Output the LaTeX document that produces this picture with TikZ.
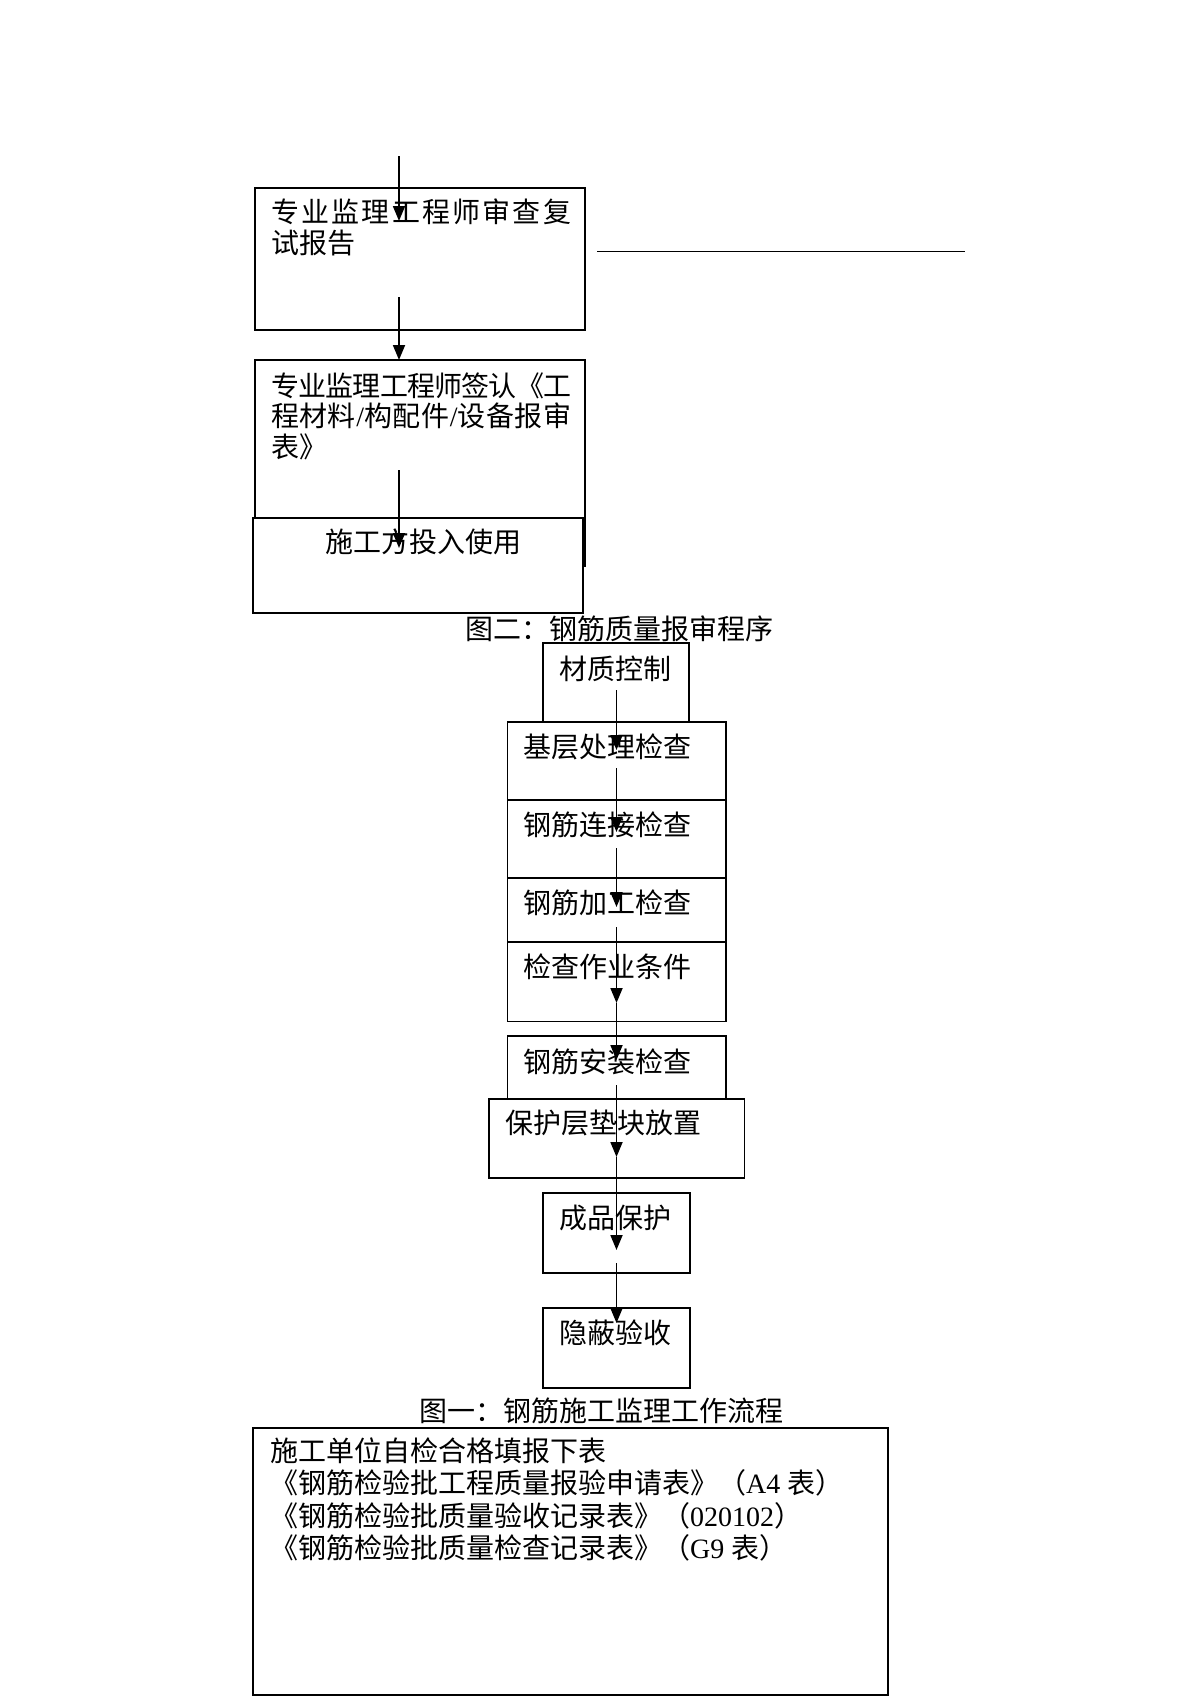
\documentclass[tikz,border=0pt]{standalone}
\usepackage{fontspec}
\setmainfont{Noto Sans CJK SC}
\newfontfamily\lat{Liberation Serif}
\usetikzlibrary{arrows.meta}
\newcommand\myfs{\fontsize{28pt}{34pt}\selectfont}
\newcommand\jline[1]{\hbox to 300pt{#1}}
\begin{document}
\begin{tikzpicture}[x=1pt,y=-1pt,
  box/.style={draw,line width=1.9pt,fill=white,inner sep=0pt},
  lbl/.style={anchor=west,inner sep=0pt,font=\myfs},
  captxt/.style={anchor=center,inner sep=0pt,font=\myfs},
  arr/.style={line width=1.8pt,-{Triangle[length=15pt,width=12pt]}},
  plainline/.style={line width=1.9pt}]
\fill[white] (0,0) rectangle (1200,1697);
\useasboundingbox (0,0) rectangle (1200,1697);

% ---- top section (figure 2) ----
\node[box,minimum width=330pt,minimum height=142pt] (b1) at (420,259) {};
\node[lbl] (b1a) at (271,211.5) {\jline{专\hss 业\hss 监\hss 理\hss 工\hss 程\hss 师\hss 审\hss 查\hss 复}};
\node[lbl] (b1b) at (271,243) {试报告};
\coordinate (h0) at (597,251.5);
\coordinate (h1) at (965,251.5);
\draw[plainline] (h0) -- (h1);

\node[box,minimum width=330pt,minimum height=206pt] (b2) at (420,463) {};
\node[lbl] (b2a) at (271,386) {\jline{专\hss 业\hss 监\hss 理\hss 工\hss 程\hss 师\hss 签\hss 认\hss 《\hss 工}};
\node[lbl] (b2b) at (271,416) {\jline{程\hss 材\hss 料\hss {\lat/}\hss 构\hss 配\hss 件\hss {\lat/}\hss 设\hss 备\hss 报\hss 审}};
\node[lbl] (b2c) at (271,447) {表》};

\node[box,minimum width=330pt,minimum height=95pt] (b3) at (418,565.5) {};
\node[lbl] (b3a) at (325,542) {施工方投入使用};

\node[captxt] (cap2) at (619.5,629) {图二：钢筋质量报审程序};

% ---- middle section (figure 1) ----
\node[box,minimum width=146pt,minimum height=79pt] (m1) at (616,682.5) {};
\node[lbl] (m1a) at (559,669) {材质控制};
\node[box,minimum width=218.5pt,minimum height=78pt] (m2) at (616.75,761) {};
\node[lbl] (m2a) at (523,746.7) {基层处理检查};
\node[box,minimum width=218.5pt,minimum height=78pt] (m3) at (616.75,839) {};
\node[lbl] (m3a) at (523,825) {钢筋连接检查};
\node[box,minimum width=218.5pt,minimum height=64pt] (m4) at (616.75,910) {};
\node[lbl] (m4a) at (523,903) {钢筋加工检查};
\node[box,minimum width=218.5pt,minimum height=79.5pt] (m5) at (616.75,981.75) {};
\node[lbl] (m5a) at (523,966.7) {检查作业条件};
\node[box,minimum width=218.5pt,minimum height=63pt] (m6) at (616.75,1067.5) {};
\node[lbl] (m6a) at (523,1061.7) {钢筋安装检查};
\node[box,minimum width=255.5pt,minimum height=79pt] (m7) at (616.75,1138.5) {};
\node[lbl] (m7a) at (505,1123) {保护层垫块放置};
\node[box,minimum width=147pt,minimum height=80pt] (m8) at (616.5,1233) {};
\node[lbl] (m8a) at (559,1218) {成品保护};
\node[box,minimum width=147pt,minimum height=80pt] (m9) at (616.5,1348) {};
\node[lbl] (m9a) at (559,1333) {隐蔽验收};

\node[captxt] (cap1) at (601.7,1411) {图一：钢筋施工监理工作流程};

% ---- bottom box ----
\node[box,minimum width=635pt,minimum height=267pt] (bb) at (570.5,1561.5) {};
\node[lbl] (bb1) at (270,1451) {施工单位自检合格填报下表};
\node[lbl] (bb2) at (270,1483) {《钢筋检验批工程质量报验申请表》（{\lat A4 }表）};
\node[lbl] (bb3) at (270,1515.5) {《钢筋检验批质量验收记录表》（{\lat 020102}）};
\node[lbl] (bb4) at (270,1547.5) {《钢筋检验批质量检查记录表》（{\lat G9 }表）};

% ---- arrow end points ----
\coordinate (a1s) at (399,156);  \coordinate (a1e) at (399,221);
\coordinate (a2s) at (399,297);  \coordinate (a2e) at (399,360);
\coordinate (a3s) at (399,470);  \coordinate (a3e) at (399,548);
\coordinate (c1s) at (616.5,690);  \coordinate (c1e) at (616.5,750);
\coordinate (c2s) at (616.5,768);  \coordinate (c2e) at (616.5,832);
\coordinate (c3s) at (616.5,848);  \coordinate (c3e) at (616.5,907);
\coordinate (c4s) at (616.5,927);  \coordinate (c4e) at (616.5,1003);
\coordinate (c5e) at (616.5,1060);
\coordinate (c6s) at (616.5,1085); \coordinate (c6e) at (616.5,1157);
\coordinate (c7e) at (616.5,1250);
\coordinate (c8s) at (616.5,1263); \coordinate (c8e) at (616.5,1323);

\draw[arr] (a1s) -- (a1e);
\draw[arr] (a2s) -- (a2e);
\draw[arr] (a3s) -- (a3e);
\draw[arr] (c1s) -- (c1e);
\draw[arr] (c2s) -- (c2e);
\draw[arr] (c3s) -- (c3e);
\draw[arr] (c4s) -- (c4e);
\draw[arr] (c4e) -- (c5e);
\draw[arr] (c6s) -- (c6e);
\draw[arr] (c6e) -- (c7e);
\draw[arr] (c8s) -- (c8e);
\end{tikzpicture}
\end{document}
